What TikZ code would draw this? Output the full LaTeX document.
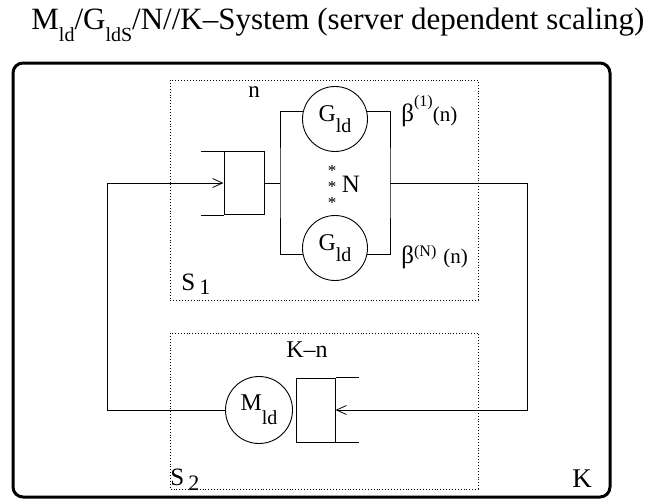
\documentclass[tikz,border=0pt]{standalone}
\usepackage{fontspec}
\setmainfont{Liberation Serif}
\usepackage{tikz}
\usetikzlibrary{
  arrows.meta,
  positioning,
  calc
}
% lowered index and raised exponent, set as plain text
\newcommand{\lowsub}[3]{\raisebox{-#1}{\fontsize{#2}{#2}\selectfont #3}}
\newcommand{\highsup}[3]{\raisebox{#1}{\fontsize{#2}{#2}\selectfont #3}}

\begin{document}
\begin{tikzpicture}[
      x=1pt, y=-1pt,
      >={Straight Barb[length=10pt,width=9pt]},
      line width=0.8pt,
      server/.style={draw, circle, minimum size=65pt, inner sep=0pt,
                     line width=0.9pt, font=\fontsize{24}{24}\selectfont},
      queuebox/.style={draw, rectangle, minimum width=40pt, minimum height=63pt,
                       inner sep=0pt, line width=1pt},
      subsys/.style={draw, dotted, line width=0.9pt},
      lbl/.style={inner sep=0pt, font=\fontsize{24}{24}\selectfont},
      starlbl/.style={inner sep=0pt, font=\fontsize{17}{17}\selectfont}
  ]
      \useasboundingbox (0,0) rectangle (654,501);

      % Titel
      \node[lbl, font=\fontsize{31}{31}\selectfont, anchor=base west] (title) at (31,29)
          {M\lowsub{12pt}{20}{ld}/G\lowsub{12pt}{20}{ldS}/N//K--System (server dependent scaling)};

      % Rahmen und Teilsysteme
      \draw[line width=3pt, rounded corners=10pt] (13,63) rectangle (610,497);
      \draw[subsys] (170,80) rectangle (478,300);
      \draw[subsys] (170,333) rectangle (478,489);

      % Teilsystem S1
      \node[queuebox] (q1) at (244,183) {};
      \draw[line width=1pt] (q1.north west) -- ++(-23,0);
      \draw[line width=1pt] (q1.south west) -- ++(-23,0);
      \node[server] (g1) at (335,119) {G\lowsub{11pt}{20}{ld}};
      \node[server] (g2) at (335,248) {G\lowsub{11pt}{20}{ld}};
      \coordinate (fork) at (280,183);
      \coordinate (join) at (390,183);
      \draw (q1.east) -- (fork);
      \draw (g1.166) -| (fork) |- (g2.191);
      \draw (g1.14) -| (join) |- (g2.-11);

      % Teilsystem S2
      \node[queuebox, minimum width=39pt, minimum height=64pt] (q2) at (315.5,410) {};
      \draw[line width=1pt] (q2.north east) -- ++(23,0);
      \draw[line width=1pt] (q2.south east) -- ++(23,0);
      \node[server, minimum size=67pt] (m) at (259,410) {M\lowsub{14pt}{20}{ld}};

      % Rueckkopplung
      \coordinate (ne) at (527,183);
      \coordinate (se) at (527,410);
      \coordinate (sw) at (107,410);
      \coordinate (nw) at (107,183);
      \draw[->] (join) -- (ne) -- (se) -- (q2.east);
      \draw[->] (m.west) -- (sw) -- (nw) -- (q1.west);

      % Beschriftungen
      \node[lbl, font=\fontsize{23}{23}\selectfont, anchor=base] (nlbl) at (254,97) {n};
      \node[lbl, anchor=base] (knlbl) at (307,357) {K--n};
      \node[lbl, font=\fontsize{25}{25}\selectfont, anchor=base west] (s1lbl) at (181,290)
          {S\,\lowsub{4pt}{22}{1}};
      \node[lbl, font=\fontsize{25}{25}\selectfont, anchor=base west] (s2lbl) at (170,485)
          {S\,\lowsub{5pt}{22}{2}};
      \node[lbl, font=\fontsize{27}{27}\selectfont, anchor=base] (klbl) at (582,487) {K};
      \node[starlbl] (star1) at (332,171) {*};
      \node[starlbl] (star2) at (332,187) {*};
      \node[starlbl] (star3) at (332,203) {*};
      \node[lbl, font=\fontsize{25}{25}\selectfont] (nsrv) at (351,184) {N};
      \node[lbl, font=\fontsize{21}{21}\selectfont, anchor=base west] (beta1) at (401,121)
          {{\fontsize{25}{25}\selectfont β}\highsup{15pt}{16}{(1)}(n)};
      \node[lbl, font=\fontsize{21}{21}\selectfont, anchor=base west] (betaN) at (401,263)
          {{\fontsize{25}{25}\selectfont β}\highsup{7pt}{16}{(N)}\,\,(n)};
  \end{tikzpicture}
\end{document}
